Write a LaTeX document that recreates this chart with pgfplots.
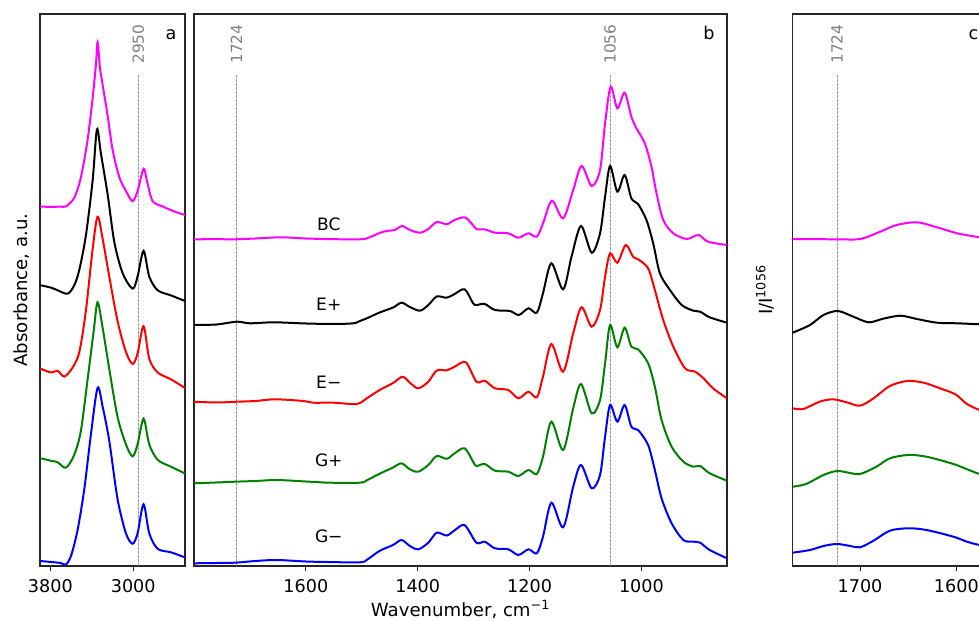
\documentclass[border=0pt]{standalone}
\usepackage{fontspec}
\setmainfont{DejaVu Sans}
\usepackage{pgfplots}
\pgfplotsset{compat=1.18}
\definecolor{mplgreen}{HTML}{008000}
\definecolor{mplmag}{HTML}{FF00FF}
\definecolor{anngray}{HTML}{808080}
\pgfplotsset{
 panel/.style={
  scale only axis, height=414pt, ymin=0, ymax=552, x dir=reverse,
  ytick=\empty, xtick pos=bottom, tick align=outside,
  major tick length=4pt,
  axis line style={line width=0.9pt, black!85},
  every tick/.style={black!85, line width=0.8pt},
  tick label style={font=\fontsize{13.2}{15}\selectfont},
  xticklabel style={yshift=-2.2pt},
  /pgf/number format/assume math mode=true,
  /pgf/number format/1000 sep={},
  label style={font=\fontsize{13.6}{16}\selectfont},
  every axis plot/.append style={line width=1.5pt, smooth, tension=0.5},
  anchor=south west, clip mode=individual,
 },
 vline/.style={anngray!80, line width=0.6pt, dash pattern=on 2pt off 1pt, sharp plot},
}
\tikzset{
 ann/.style={rotate=90, anchor=west, text=anngray, inner sep=0pt, font=\fontsize{11.5}{13}\selectfont},
 lett/.style={anchor=base east, inner sep=0pt, font=\fontsize{13.2}{15}\selectfont},
 clab/.style={anchor=center, inner sep=0pt, font=\fontsize{12.8}{15}\selectfont},
}
\begin{document}
\begin{tikzpicture}
% ---------------- panel a ----------------
\begin{axis}[panel, at={(30pt,41.25pt)}, width=108.75pt,
  xmin=2500, xmax=3900, xtick={3800,3000},
  ylabel={Absorbance, a.u.},
  ylabel style={at={(axis description cs:-0.124,0.5)}, anchor=center}]
\addplot[vline] coordinates {(2950,0) (2950,491)};
\addplot[mplmag] coordinates {(3900,359.6)(3794,359)(3700,359.5)(3650,359.6)(3569,368.2)(3505,388.7)(3440,426.4)(3392,467.5)(3360,501.7)(3344,524)(3321,498.3)(3295,481.2)(3247,450.4)(3199,416.1)(3134,388.7)(3070,375)(3006,364.8)(2958,375)(2900,397.3)(2868,385.3)(2813,365)(2716,359.6)(2603,354.5)(2500,351)};
\addplot[black] coordinates {(3900,280.8)(3794,278.4)(3730,275.7)(3633,272.3)(3569,280.8)(3520,296.3)(3457,330.5)(3392,385.3)(3350,436.7)(3312,412.7)(3247,371.6)(3182,323.7)(3102,292.8)(3006,277.4)(2958,289.4)(2900,315.1)(2845,289.4)(2764,275.7)(2636,270.6)(2500,265)};
\addplot[red] coordinates {(3900,197.6)(3794,193.5)(3730,195.2)(3665,189.4)(3585,198.6)(3520,214.1)(3457,255.2)(3392,316.8)(3344,349.3)(3295,327.1)(3231,289.4)(3151,244.9)(3070,214.1)(3006,202.1)(2958,212.4)(2900,239.8)(2845,207.3)(2764,193.5)(2636,186.7)(2500,178)};
\addplot[mplgreen] coordinates {(3900,107.9)(3794,105.2)(3730,103.8)(3650,98.3)(3569,111.3)(3505,135.3)(3440,186.7)(3382,234.6)(3344,263.7)(3295,238)(3231,196.9)(3151,149)(3070,121.6)(3006,109.6)(2958,121.6)(2900,147.3)(2845,121.6)(2764,106.2)(2636,99.3)(2500,92.5)};
\addplot[blue] coordinates {(3900,5)(3794,4)(3700,3)(3650,1.5)(3600,10.3)(3537,36)(3472,77.1)(3408,131.9)(3344,178.1)(3295,159.3)(3231,125)(3151,66.8)(3070,32.6)(3006,22.3)(2958,32.6)(2900,61.7)(2845,32.6)(2764,17.2)(2636,13.7)(2500,8.6)};
\node[ann] at (axis cs:2950,502) {2950};
\node[lett] at (axis cs:2581,526) {a};
\end{axis}
% ---------------- panel b ----------------
\begin{axis}[panel, at={(145.5pt,41.25pt)}, width=399.75pt,
  xmin=847, xmax=1800, xtick={1600,1400,1200,1000},
  xlabel={Wavenumber, cm\textsuperscript{−1}},
  xlabel style={at={(axis description cs:0.5,-0.078)}, anchor=center}]
\addplot[vline] coordinates {(1724,0) (1724,491)};
\addplot[vline] coordinates {(1056,0) (1056,491)};
\addplot[mplmag] coordinates {(1800,326.7)(1760,326.8)(1727,326.7)(1690,327.5)(1645,328.7)(1600,327.5)(1550,326.8)(1500,326.8)(1485,329)(1468,333)(1456,335)(1441,336)(1428,340)(1414,336)(1396,333.3)(1381,337)(1366,344)(1348,341.8)(1334,346)(1316,348.7)(1304,342.7)(1294,336.7)(1280,336.7)(1262,333.3)(1238,332.7)(1220,328.3)(1202,332.7)(1187,329.3)(1176,342.7)(1160,365.3)(1140,347.7)(1122,376)(1107,400)(1089,380)(1074,396)(1065,442.7)(1055,479.3)(1043,457.7)(1030,473.3)(1018,449.3)(1009,437.7)(994,422.7)(982,399.3)(973,372.7)(961,346)(943,332.7)(919,327)(898,331)(881,324.3)(847,321)};
\addplot[black] coordinates {(1800,241)(1760,241.5)(1723,244.3)(1700,242.7)(1657,243.7)(1600,242.5)(1550,242)(1515,242.7)(1502,245.3)(1491,247.7)(1468,253.5)(1444,258.5)(1429,263.3)(1414,259)(1396,255.3)(1381,261)(1366,269.5)(1348,268.3)(1334,272)(1316,276.7)(1301,262.7)(1295,261)(1280,262)(1262,256)(1235,255)(1219,251)(1202,257.7)(1187,253.3)(1176,272.7)(1161,302.7)(1140,276.7)(1125,309.3)(1108,340)(1089,313.3)(1074,332.7)(1065,369.3)(1056,400)(1043,374.3)(1030,391)(1018,367.7)(1006,362)(991,346)(979,322.7)(967,292.7)(949,276)(928,261)(907,255.3)(895,254.3)(878,248.7)(847,243.3)};
\addplot[red] coordinates {(1800,164.3)(1760,163.5)(1723,164.3)(1690,165)(1655,166.7)(1604,165)(1587,163.3)(1550,163.3)(1509,162)(1491,167.7)(1468,176)(1444,183)(1427,189.3)(1414,183.3)(1399,177.7)(1381,184.3)(1366,195.5)(1348,195.7)(1334,199.3)(1314,203.7)(1295,184.3)(1280,185.3)(1262,177.7)(1238,176)(1220,167.7)(1202,174.3)(1187,168.7)(1176,189.3)(1161,222)(1140,194.3)(1122,232.7)(1107,258.7)(1089,239.3)(1074,256)(1065,289.3)(1056,312.7)(1043,303.3)(1028,321)(1015,309.3)(1006,306.7)(988,297.7)(976,276)(961,246)(943,219.3)(922,197.7)(904,194.3)(889,187.7)(872,177.7)(847,167.7)};
\addplot[mplgreen] coordinates {(1800,82.7)(1760,83.5)(1727,84.3)(1690,85)(1652,86)(1600,84.5)(1557,83.3)(1503,83.3)(1490,86)(1468,92.3)(1444,98.5)(1429,102.7)(1414,96.7)(1399,94.3)(1381,101)(1366,110)(1348,107.2)(1334,112.7)(1316,117.7)(1301,104.3)(1295,100)(1280,102)(1262,95.3)(1238,94.3)(1220,90)(1202,96)(1187,92)(1176,109.3)(1161,144.3)(1140,116)(1122,157.7)(1108,182)(1089,152.7)(1074,166)(1065,202.7)(1056,241)(1043,218.7)(1030,238.3)(1018,219.3)(1006,216.7)(988,202.7)(976,179.3)(964,146)(946,119.3)(925,104.3)(907,99.3)(895,100)(878,92.7)(847,85.3)};
\addplot[blue] coordinates {(1800,2.7)(1760,3)(1727,3.3)(1690,5)(1652,6)(1600,4.5)(1562,4)(1503,3.7)(1490,6.5)(1468,15.2)(1444,21)(1429,26)(1414,20)(1399,16.7)(1381,23.3)(1366,33.3)(1348,30.5)(1334,35.7)(1316,40.8)(1295,23.3)(1280,24.3)(1262,17.7)(1238,16.7)(1220,11)(1202,16.7)(1187,12.7)(1176,29.3)(1161,63.3)(1140,38.7)(1122,79.3)(1108,101)(1089,77.7)(1074,91)(1065,129.3)(1056,161)(1043,144.3)(1030,161)(1018,139.3)(1006,136)(988,121)(976,96)(964,67.7)(946,42.7)(925,26)(907,24.3)(895,23.3)(878,16)(847,7.7)};
\node[ann] at (axis cs:1724,502) {1724};
\node[ann] at (axis cs:1056,502) {1056};
\node[lett] at (axis cs:868.6,526) {b};
\node[clab] at (axis cs:1559,342) {BC};
\node[clab] at (axis cs:1559,261.7) {E+};
\node[clab] at (axis cs:1559,183.3) {E−};
\node[clab] at (axis cs:1559,106) {G+};
\node[clab] at (axis cs:1559,29.3) {G−};
\end{axis}
% ---------------- panel c ----------------
\begin{axis}[panel, at={(594.5pt,41.25pt)}, width=148pt,
  xmin=1565, xmax=1770, xtick={1700,1600},
  ylabel={I/I\textsuperscript{1056}},
  ylabel style={at={(axis description cs:-0.14,0.5)}, anchor=center}]
\addplot[vline] coordinates {(1724,0) (1724,491)};
\addplot[mplmag] coordinates {(1770,327)(1724,326.7)(1700,327)(1679,334.3)(1662,341)(1641,343.7)(1620,338.7)(1599,332.7)(1576,328.7)(1565,327.5)};
\addplot[black] coordinates {(1770,233.3)(1752,241)(1738,251)(1723,255)(1707,249.3)(1691,243.7)(1676,247.3)(1658,250.3)(1641,247)(1620,243.3)(1599,242.7)(1576,241.7)(1565,241.3)};
\addplot[red] coordinates {(1770,157.7)(1759,157)(1742,164.3)(1728,166.7)(1714,163.7)(1700,160.3)(1686,167.7)(1669,180)(1651,185)(1634,183.3)(1617,177.7)(1601,171.7)(1589,162)(1576,156)(1565,152)};
\addplot[mplgreen] coordinates {(1770,79.3)(1756,82)(1738,91)(1724,95)(1712,93.3)(1700,92)(1683,99.3)(1669,107.7)(1650,111)(1631,109.3)(1603,102)(1587,96)(1576,92)(1565,89)};
\addplot[blue] coordinates {(1770,13.3)(1752,16)(1738,20)(1724,22)(1710,20)(1700,18.7)(1686,25.3)(1669,35.3)(1650,37.7)(1631,36)(1603,29.3)(1589,24.3)(1576,21)(1565,19)};
\node[ann] at (axis cs:1724,502) {1724};
\node[lett] at (axis cs:1577,526) {c};
\end{axis}
\pgfresetboundingbox
\useasboundingbox (0,0) rectangle (734.25pt,465.75pt);
\end{tikzpicture}
\end{document}
